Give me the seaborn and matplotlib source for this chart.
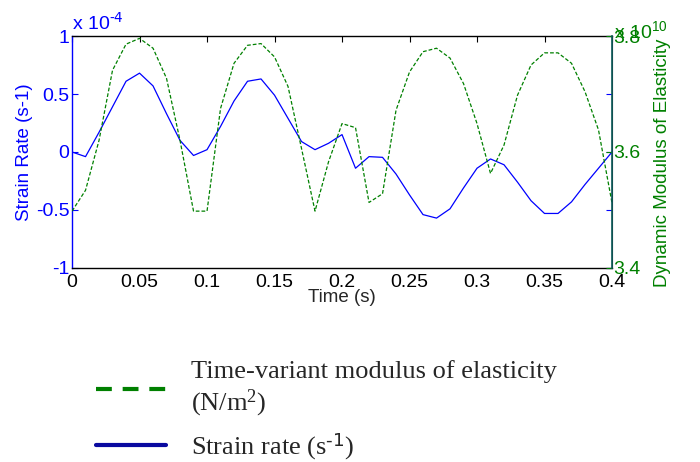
import matplotlib
matplotlib.use("Agg")
import matplotlib.pyplot as plt
from matplotlib.lines import Line2D
import numpy as np
import seaborn as sns

# Time samples (s)
time_s = np.round(np.arange(0, 0.41, 0.01), 2)

# Strain rate (x 1e-4 s^-1)
strain_rate = np.array([
    0.00, -0.04, 0.17, 0.39, 0.61, 0.68, 0.57, 0.33, 0.10, -0.03,
    0.02, 0.22, 0.44, 0.61, 0.63, 0.49, 0.29, 0.09, 0.02, 0.075,
    0.15, -0.14, -0.04, -0.046, -0.19, -0.37, -0.54, -0.57, -0.49, -0.31,
    -0.14, -0.06, -0.11, -0.26, -0.42, -0.53, -0.53, -0.43, -0.28, -0.14,
    0.00
])

# Dynamic modulus of elasticity (x 1e10 N/m^2)
modulus = np.array([
    3.498, 3.534, 3.62, 3.741, 3.786, 3.796, 3.779, 3.727, 3.62, 3.498,
    3.498, 3.675, 3.753, 3.784, 3.787, 3.764, 3.713, 3.606, 3.498, 3.583,
    3.649, 3.642, 3.513, 3.528, 3.672, 3.738, 3.773, 3.779, 3.762, 3.718,
    3.649, 3.563, 3.612, 3.698, 3.75, 3.771, 3.771, 3.753, 3.704, 3.638,
    3.512
])

x_ticks = [0, 0.05, 0.1, 0.15, 0.2, 0.25, 0.3, 0.35, 0.4]
x_labels = ["0", "0.05", "0.1", "0.15", "0.2", "0.25", "0.3", "0.35", "0.4"]
left_ticks = [-1, -0.5, 0, 0.5, 1]
left_labels = ["-1", "-0.5", "0", "0.5", "1"]
right_ticks = [3.4, 3.6, 3.8]
right_labels = ["3.4", "3.6", "3.8"]

BLUE = "#0000ff"
GREEN = "#008000"

sns.set_style("white")
plt.rcParams["font.family"] = ["Liberation Sans", "DejaVu Sans"]
plt.rcParams["mathtext.default"] = "regular"

fig = plt.figure(figsize=(7, 4.62), dpi=100)
ax = fig.add_axes([0.1029, 0.42, 0.7714, 0.502])
ax2 = ax.twinx()

sns.lineplot(x=time_s, y=strain_rate, ax=ax, color=BLUE, linewidth=0.9)
sns.lineplot(x=time_s, y=modulus, ax=ax2, color=GREEN, linewidth=0.9,
             linestyle=(0, (3, 1.6)))

ax.set_xlim(0, 0.4)
ax.set_ylim(-1, 1)
ax2.set_ylim(3.4, 3.8)

ax.set_xticks(x_ticks)
ax.set_xticklabels(x_labels)
ax.set_yticks(left_ticks)
ax.set_yticklabels(left_labels)
ax2.set_yticks(right_ticks)
ax2.set_yticklabels(right_labels)

ax.tick_params(axis="x", direction="in", length=4, width=0.8, labelsize=14,
               top=True, colors="black", pad=4)
ax.tick_params(axis="y", direction="in", length=4, width=0.8, labelsize=14,
               colors=BLUE, right=True, labelright=False, pad=2)
ax2.tick_params(axis="y", direction="in", length=4, width=0.8, labelsize=14,
                colors=GREEN, pad=1)

for side in ["top", "bottom"]:
    ax.spines[side].set_color("black")
    ax.spines[side].set_linewidth(1.0)
ax.spines["left"].set_color(BLUE)
ax.spines["left"].set_linewidth(1.0)
ax2.spines["right"].set_color("#0b5a5a")
ax2.spines["right"].set_linewidth(1.2)
ax2.spines["left"].set_visible(False)
ax2.spines["top"].set_visible(False)
ax2.spines["bottom"].set_visible(False)

ax.set_xlabel("Time (s)", fontsize=13.5, labelpad=-1)
ax.set_ylabel("Strain Rate (s-1)", fontsize=13.5, color=BLUE, labelpad=2)
ax2.set_ylabel("Dynamic Modulus of Elasticity", fontsize=13.5, color=GREEN)
ax2.yaxis.set_label_coords(1.078, 0.455)

# exponent labels like MATLAB's plotyy
ax.text(0.0, 1.01, "x 10$^{\\text{-4}}$", transform=ax.transAxes, color=BLUE,
        fontsize=14, ha="left", va="bottom")
ax2.text(1.004, 0.975, "x 10$^{10}$", transform=ax2.transAxes, color=GREEN,
         fontsize=14, ha="left", va="bottom")

# legend below the plot
handles = [
    Line2D([], [], color="#008000", linewidth=3, linestyle=(0, (3.8, 2.6))),
    Line2D([], [], color="#0a0aa0", linewidth=3, linestyle="-"),
]
labels = ["Time-variant modulus of elasticity\n(N/m$^2$)",
          "Strain rate (s$^{\\text{-1}}$)"]
fig.legend(handles, labels, loc="upper left", bbox_to_anchor=(0.103, 0.272),
           frameon=False, handlelength=2.65, handletextpad=0.95,
           labelspacing=0.45,
           prop={"family": "Liberation Serif", "size": 19})

fig.savefig("out.png", dpi=100)
